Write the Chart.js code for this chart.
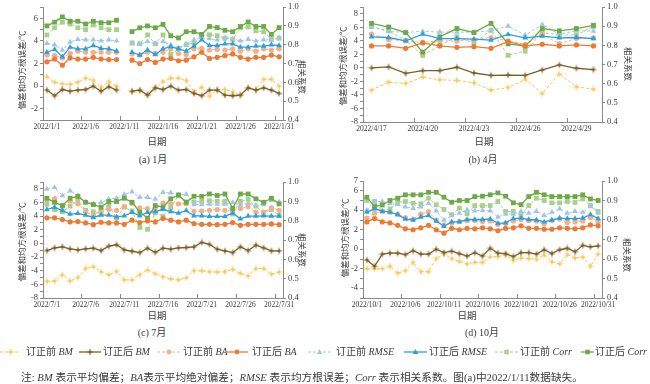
<!DOCTYPE html>
<html>
<head>
<meta charset="utf-8">
<script src="https://cdn.jsdelivr.net/npm/chart.js@4"></script>
<style>
    body { margin: 0; width: 650px; height: 384px; position: relative; overflow: hidden; background: #fff;
           font-family: "Liberation Serif", "Noto Sans CJK SC", serif; color: #3a3a3a; }
    canvas.panel { position: absolute; }
    .t { position: absolute; white-space: nowrap; line-height: 1; transform: translate(-50%, -50%); }
    .vl { transform: translate(-50%, -50%) rotate(-90deg); }
    .vr { transform: translate(-50%, -50%) rotate(90deg); }
    .lg { position: absolute; white-space: nowrap; font-size: 10px; line-height: 1; transform: translateY(-50%); }
    .sw { position: absolute; }
    i { font-style: italic; }
</style>
</head>
<body>
<script>
// ---- categories ----
const janLabels = ["2022/1/1","2022/1/2","2022/1/3","2022/1/4","2022/1/5","2022/1/6","2022/1/7","2022/1/8","2022/1/9","2022/1/10",
    "2022/1/11","2022/1/12","2022/1/13","2022/1/14","2022/1/15","2022/1/16","2022/1/17","2022/1/18","2022/1/19","2022/1/20",
    "2022/1/21","2022/1/22","2022/1/23","2022/1/24","2022/1/25","2022/1/26","2022/1/27","2022/1/28","2022/1/29","2022/1/30","2022/1/31"];
const aprLabels = ["2022/4/17","2022/4/18","2022/4/19","2022/4/20","2022/4/21","2022/4/22","2022/4/23","2022/4/24","2022/4/25",
    "2022/4/26","2022/4/27","2022/4/28","2022/4/29","2022/4/30"];
const julLabels = ["2022/7/1","2022/7/2","2022/7/3","2022/7/4","2022/7/5","2022/7/6","2022/7/7","2022/7/8","2022/7/9","2022/7/10",
    "2022/7/11","2022/7/12","2022/7/13","2022/7/14","2022/7/15","2022/7/16","2022/7/17","2022/7/18","2022/7/19","2022/7/20",
    "2022/7/21","2022/7/22","2022/7/23","2022/7/24","2022/7/25","2022/7/26","2022/7/27","2022/7/28","2022/7/29","2022/7/30","2022/7/31"];
const octLabels = ["2022/10/1","2022/10/2","2022/10/3","2022/10/4","2022/10/5","2022/10/6","2022/10/7","2022/10/8","2022/10/9","2022/10/10",
    "2022/10/11","2022/10/12","2022/10/13","2022/10/14","2022/10/15","2022/10/16","2022/10/17","2022/10/18","2022/10/19","2022/10/20",
    "2022/10/21","2022/10/22","2022/10/23","2022/10/24","2022/10/25","2022/10/26","2022/10/27","2022/10/28","2022/10/29","2022/10/30","2022/10/31"];

// ---- January (1/11 missing) ----
const janBmPre    = [0.85,0.35,0.2,0.15,0.35,0.7,0.5,-0.1,0.4,0.0,null,-0.5,-0.4,-0.7,-0.1,0.4,0.7,0.7,0.5,-0.5,-0.1,-0.9,-0.3,-0.3,-0.5,-0.8,-0.2,-0.3,0.6,0.6,0.0];
const janBmPost   = [-0.35,-0.85,-0.3,-0.45,-0.35,-0.3,0.0,-0.45,-0.05,-0.35,null,-0.45,-0.35,-0.8,-0.15,-0.3,0.0,-0.35,-0.3,-0.65,-0.85,-0.35,-0.35,-0.8,-0.85,-0.8,-0.15,-0.35,-0.15,-0.35,-0.65];
const janBaPre    = [2.75,2.7,2.5,2.9,3.1,3.0,3.0,3.0,3.0,3.0,null,2.85,2.75,3.0,2.9,3.0,3.3,2.9,2.8,3.3,3.35,3.2,3.25,3.2,3.3,3.1,3.3,3.1,3.3,3.2,3.3];
const janBaPost   = [2.15,2.4,1.85,2.5,2.4,2.4,2.55,2.4,2.35,2.35,null,2.3,2.0,2.35,2.1,2.4,2.45,2.25,2.3,2.6,3.0,2.45,2.55,2.7,2.85,2.55,2.4,2.55,2.55,2.75,2.6];
const janRmsePre  = [3.8,3.65,3.2,3.9,4.15,4.1,4.1,4.0,4.1,4.0,null,3.75,3.7,3.95,3.75,3.95,3.65,3.35,3.75,4.1,4.3,4.2,4.1,4.3,4.2,4.0,4.15,4.0,4.1,4.1,4.3];
const janRmsePost = [3.0,3.25,2.6,3.45,3.3,3.3,3.6,3.35,3.3,3.1,null,3.0,2.75,3.2,2.8,3.3,3.5,3.3,3.1,3.55,4.1,3.6,3.6,3.75,3.75,3.45,3.45,3.55,3.55,3.65,3.6];
const janCorrPre  = [0.852,0.89,0.92,0.91,0.89,0.88,0.905,0.89,0.88,0.88,null,0.81,0.805,0.852,0.805,0.852,0.75,0.78,0.8,0.81,0.85,0.853,0.848,0.834,0.828,0.89,0.895,0.874,0.869,0.828,0.834];
const janCorrPost = [0.9,0.92,0.948,0.925,0.925,0.91,0.925,0.917,0.917,0.93,null,0.87,0.89,0.9,0.89,0.908,0.848,0.836,0.869,0.869,0.855,0.897,0.891,0.877,0.869,0.897,0.921,0.897,0.897,0.855,0.891];

// ---- April ----
const aprBmPre    = [-3.3,-2.1,-2.3,-1.35,-1.75,-1.85,-2.2,-3.3,-2.9,-1.7,-3.8,-0.9,-2.8,-3.15];
const aprBmPost   = [0.0,0.15,-0.8,-0.4,-0.4,0.1,-0.75,-1.1,-1.05,-1.1,-0.3,0.45,-0.05,-0.25];
const aprBaPre    = [5.0,4.2,4.0,3.8,4.0,4.0,4.2,4.5,4.0,3.5,5.0,3.6,4.35,4.45];
const aprBaPost   = [3.25,3.25,2.9,3.7,3.25,3.05,3.15,2.9,3.9,3.25,3.5,3.25,3.4,3.25];
const aprRmsePre  = [6.05,5.4,5.25,5.4,5.3,5.3,5.3,5.5,6.2,4.85,6.4,5.0,5.5,5.45];
const aprRmsePost = [4.6,4.5,4.0,5.0,4.35,4.35,4.25,4.1,4.95,4.45,4.7,4.45,4.5,4.35];
const aprCorrPre  = [0.898,0.876,0.825,0.748,0.8,0.845,0.813,0.88,0.748,0.77,0.867,0.855,0.855,0.898];
const aprCorrPost = [0.915,0.896,0.867,0.765,0.845,0.888,0.867,0.915,0.808,0.796,0.888,0.876,0.888,0.905];

// ---- July ----
const julBmPre    = [-5.55,-5.5,-4.6,-5.5,-5.0,-3.65,-3.4,-4.15,-4.6,-4.1,-5.35,-5.35,-4.6,-3.9,-4.45,-4.9,-5.2,-5.35,-5.05,-4.0,-4.0,-4.15,-4.2,-4.15,-3.8,-4.4,-4.75,-3.7,-3.7,-4.5,-4.2];
const julBmPost   = [-1.05,-0.65,-0.5,-0.8,-0.95,-0.8,-0.7,-1.05,-0.4,-0.2,-0.95,-1.15,-1.35,-0.7,-1.3,-0.7,-0.85,-0.65,-0.6,-0.5,0.15,-0.15,-0.85,-1.1,-1.35,-0.5,-1.05,-0.25,-0.65,-1.1,-1.1];
const julBaPre    = [6.4,6.55,5.4,6.2,5.8,4.6,4.1,4.85,5.0,4.85,5.4,5.9,5.2,5.1,5.2,5.9,5.8,5.8,5.8,4.7,4.75,4.85,4.95,4.85,4.85,5.1,5.4,4.6,4.6,5.2,4.85];
const julBaPost   = [3.75,3.75,3.5,3.15,3.2,3.0,2.75,3.1,3.0,3.0,2.8,3.4,3.05,3.3,3.15,3.65,3.4,3.15,3.4,2.9,2.8,2.8,2.75,2.8,3.05,2.65,2.8,2.8,2.8,2.85,2.75];
const julRmsePre  = [7.95,8.2,7.0,7.7,7.0,6.1,5.8,6.0,6.5,6.6,7.2,7.55,6.75,6.75,6.5,7.5,7.4,7.1,7.2,5.7,5.7,5.75,5.75,5.75,6.0,5.6,5.9,5.6,5.7,6.3,6.1];
const julRmsePost = [4.95,5.3,4.8,4.3,4.4,4.15,3.8,4.15,4.15,3.9,4.05,4.55,4.05,4.55,4.65,5.0,4.65,4.45,4.8,4.05,4.05,3.95,3.95,3.95,4.45,3.6,4.0,4.0,4.05,4.0,4.0];
const julCorrPre  = [0.885,0.857,0.846,0.875,0.906,0.854,0.846,0.84,0.875,0.815,0.87,0.85,0.765,0.755,0.84,0.823,0.868,0.93,0.897,0.897,0.9,0.903,0.9,0.9,0.834,0.9,0.91,0.875,0.84,0.857,0.828];
const julCorrPost = [0.916,0.895,0.878,0.916,0.926,0.895,0.883,0.87,0.899,0.899,0.916,0.895,0.844,0.813,0.878,0.87,0.913,0.933,0.895,0.926,0.926,0.938,0.93,0.938,0.864,0.938,0.938,0.913,0.895,0.916,0.887];

// ---- October ----
const octBmPre    = [-2.0,-2.0,-2.0,-1.75,-2.45,-2.2,-1.35,-2.3,-2.3,-0.95,-0.5,-0.95,-1.25,-1.5,-1.35,-1.35,-0.8,-0.75,-0.6,-1.15,-0.9,-0.95,-1.05,-0.6,-1.3,-1.5,-0.55,-0.9,-0.8,-1.75,-0.5];
const octBmPost   = [-1.1,-1.75,-0.5,-0.4,-0.4,-0.55,-0.15,-0.5,-0.5,0.0,-0.35,-0.2,-0.45,-0.7,-0.35,-0.7,0.1,-0.4,-0.45,-0.75,-0.35,-0.35,-0.5,-0.05,-0.45,-0.05,0.1,-0.25,0.4,0.25,0.35];
const octBaPre    = [3.2,3.7,3.9,3.8,3.6,3.25,3.1,3.6,3.85,3.0,2.5,2.7,2.85,2.95,2.95,2.85,2.9,2.55,2.65,2.9,3.05,2.95,2.9,2.6,2.95,3.1,2.75,2.8,2.9,3.25,2.85];
const octBaPost   = [2.8,3.15,2.8,2.7,2.45,2.1,2.0,2.2,2.45,2.0,1.65,2.15,2.0,2.15,2.1,2.2,2.1,1.9,2.15,2.2,2.4,2.15,2.15,2.05,2.05,2.2,2.15,2.1,2.2,2.5,2.4];
const octRmsePre  = [4.0,4.9,4.9,4.7,4.6,4.35,4.2,4.35,4.7,3.95,3.0,3.45,3.7,4.05,3.95,4.0,3.95,3.3,3.6,3.6,3.88,3.7,3.88,3.47,3.8,4.15,3.7,3.88,3.8,4.4,3.7];
const octRmsePost = [3.8,4.15,3.9,3.8,3.55,3.1,3.0,3.3,3.45,2.9,2.35,2.8,2.8,3.05,3.05,3.05,3.1,2.65,2.7,3.15,3.2,3.05,3.0,2.8,3.0,3.2,3.15,3.15,3.2,3.55,3.15];
const octCorrPre  = [0.9,0.895,0.845,0.857,0.891,0.895,0.886,0.883,0.912,0.878,0.854,0.827,0.861,0.832,0.874,0.874,0.874,0.895,0.844,0.844,0.823,0.874,0.912,0.9,0.888,0.888,0.895,0.89,0.908,0.874,0.844];
const octCorrPost = [0.917,0.869,0.877,0.9,0.912,0.929,0.929,0.929,0.942,0.942,0.917,0.891,0.9,0.9,0.92,0.922,0.929,0.939,0.922,0.888,0.879,0.92,0.942,0.929,0.92,0.92,0.92,0.92,0.929,0.908,0.9];

// ---- labelled tick values ----
const janLeftTicks = [-2, 0, 2, 4, 6];
const aprLeftTicks = [-8, -6, -4, -2, 0, 2, 4, 6, 8];
const julLeftTicks = [-8, -6, -4, -2, 0, 2, 4, 6, 8];
const octLeftTicks = [-4, -2, 0, 2, 4, 6, 7];

// series look, in legend order
const seriesStyle = [
    { pre: "订正前", metric: "BM",   color: "#f6c652", dash: true,  mark: "star",     axis: "y"  },
    { pre: "订正后", metric: "BM",   color: "#7d5f22", dash: false, mark: "star",     axis: "y"  },
    { pre: "订正前", metric: "BA",   color: "#f3b088", dash: true,  mark: "circle",   axis: "y"  },
    { pre: "订正后", metric: "BA",   color: "#ec7a35", dash: false, mark: "circle",   axis: "y"  },
    { pre: "订正前", metric: "RMSE", color: "#a2c4e6", dash: true,  mark: "triangle", axis: "y"  },
    { pre: "订正后", metric: "RMSE", color: "#2ba0e0", dash: false, mark: "triangle", axis: "y"  },
    { pre: "订正前", metric: "Corr", color: "#a8d08c", dash: true,  mark: "rect",     axis: "y1" },
    { pre: "订正后", metric: "Corr", color: "#6caa45", dash: false, mark: "rect",     axis: "y1" },
];

const panels = [
    { labels: janLabels, series: [janBmPre, janBmPost, janBaPre, janBaPost, janRmsePre, janRmsePost, janCorrPre, janCorrPost],
      yMin: -3, yMax: 7, leftTicks: janLeftTicks, every: 5,
      box: { x: 0, y: 0, w: 325, h: 140 }, area: { l: 43, r: 283, t: 4, b: 120 } },
    { labels: aprLabels, series: [aprBmPre, aprBmPost, aprBaPre, aprBaPost, aprRmsePre, aprRmsePost, aprCorrPre, aprCorrPost],
      yMin: -8, yMax: 9, leftTicks: aprLeftTicks, every: 3,
      box: { x: 320, y: 0, w: 330, h: 142 }, area: { l: 43, r: 282, t: 4, b: 122 } },
    { labels: julLabels, series: [julBmPre, julBmPost, julBaPre, julBaPost, julRmsePre, julRmsePost, julCorrPre, julCorrPost],
      yMin: -8, yMax: 9, leftTicks: julLeftTicks, every: 5,
      box: { x: 0, y: 170, w: 325, h: 148 }, area: { l: 43, r: 283, t: 12, b: 128 } },
    { labels: octLabels, series: [octBmPre, octBmPost, octBaPre, octBaPost, octRmsePre, octRmsePost, octCorrPre, octCorrPost],
      yMin: -5, yMax: 7, leftTicks: octLeftTicks, every: 5,
      box: { x: 320, y: 170, w: 330, h: 148 }, area: { l: 43, r: 282, t: 11, b: 128 } },
];

const axisColor = "#8a8a8a";
const textColor = "#3a3a3a";
const serif = '"Liberation Serif", "Times New Roman", serif';

function makeStar(color) {
    const c = document.createElement("canvas");
    c.width = 8; c.height = 8;
    const g = c.getContext("2d");
    g.fillStyle = color;
    g.beginPath();
    for (let k = 0; k < 8; k++) {
        const a = k * Math.PI / 4 - Math.PI / 2;
        const rad = k % 2 ? 1.2 : 4;
        g.lineTo(4 + rad * Math.cos(a), 4 + rad * Math.sin(a));
    }
    g.closePath();
    g.fill();
    return c;
}

const markRadius = { star: 3, circle: 2.6, triangle: 3.3, rect: 3.4 };

function makeDatasets(series) {
    return series.map((values, i) => {
        const st = seriesStyle[i];
        return {
            label: st.pre + " " + st.metric,
            data: values,
            yAxisID: st.axis,
            borderColor: st.color,
            backgroundColor: st.color,
            borderWidth: st.dash ? 1 : 1.3,
            borderDash: st.dash ? [3, 2] : [],
            pointStyle: st.mark === "star" ? makeStar(st.color) : st.mark,
            pointRadius: markRadius[st.mark],
            pointBackgroundColor: st.color,
            pointBorderColor: st.color,
            pointBorderWidth: 0,
            tension: 0,
            spanGaps: false,
            order: st.dash ? 1 : 0,
        };
    });
}

panels.forEach((p) => {
    const cv = document.createElement("canvas");
    cv.className = "panel";
    cv.width = p.box.w;
    cv.height = p.box.h;
    cv.style.left = p.box.x + "px";
    cv.style.top = p.box.y + "px";
    document.body.appendChild(cv);

    new Chart(cv, {
        type: "line",
        data: { labels: p.labels, datasets: makeDatasets(p.series) },
        options: {
            responsive: false,
            animation: false,
            devicePixelRatio: 1,
            layout: { padding: { top: p.area.t, left: 0, right: 0, bottom: 0 } },
            plugins: { legend: { display: false }, tooltip: { enabled: false } },
            scales: {
                x: {
                    offset: true,
                    afterFit: (s) => { s.height = p.box.h - p.area.b; },
                    border: { display: true, color: axisColor, width: 1 },
                    grid: {
                        drawOnChartArea: false,
                        offset: true,
                        tickLength: -4,
                        tickColor: (c) => (c.index % p.every === 0 ? axisColor : "rgba(0,0,0,0)"),
                    },
                    ticks: {
                        autoSkip: false,
                        maxRotation: 0,
                        minRotation: 0,
                        padding: 7,
                        color: textColor,
                        font: { family: serif, size: 7.5 },
                        callback: (v, i) => (i % p.every === 0 ? p.labels[i] : ""),
                    },
                },
                y: {
                    position: "left",
                    min: p.yMin,
                    max: p.yMax,
                    afterFit: (s) => { s.width = p.area.l; },
                    border: { display: true, color: axisColor, width: 1 },
                    grid: { drawOnChartArea: false, tickLength: 3, color: axisColor },
                    ticks: {
                        autoSkip: false,
                        stepSize: 1,
                        padding: 2,
                        color: textColor,
                        font: { family: serif, size: 8.5 },
                        callback: (v) => (p.leftTicks.includes(v) ? v : ""),
                    },
                },
                y1: {
                    position: "right",
                    min: 0.4,
                    max: 1.0,
                    afterFit: (s) => { s.width = p.box.w - p.area.r; },
                    border: { display: true, color: axisColor, width: 1 },
                    grid: { drawOnChartArea: false, tickLength: 3, color: axisColor },
                    ticks: {
                        autoSkip: false,
                        stepSize: 0.1,
                        padding: 2,
                        color: textColor,
                        font: { family: serif, size: 8.5 },
                        callback: (v) => v.toFixed(1),
                    },
                },
            },
        },
    });
});

// ---- text around the panels ----
const texts = [
    ["(a) 1月", 153, 160, 10, ""], ["(b) 4月", 483, 160, 10, ""], ["(c) 7月", 152, 333, 10, ""], ["(d) 10月", 482, 333, 10, ""],
    ["日期", 157, 143, 9.5, ""], ["日期", 484, 143, 9.5, ""], ["日期", 157, 317, 9.5, ""], ["日期", 467, 317, 9.5, ""],
    ["偏差和均方根误差/℃", 22, 70, 8.5, "vl"], ["偏差和均方根误差/℃", 343, 66, 8.5, "vl"],
    ["偏差和均方根误差/℃", 22, 242, 8.5, "vl"], ["偏差和均方根误差/℃", 345, 238, 8.5, "vl"],
    ["相关系数", 302, 77, 8.5, "vr"], ["相关系数", 628, 64, 8.5, "vr"], ["相关系数", 302, 250, 8.5, "vr"], ["相关系数", 627, 255, 8.5, "vr"],
];
texts.forEach(([s, x, y, fs, cls]) => {
    const d = document.createElement("div");
    d.className = "t " + cls;
    d.style.left = x + "px";
    d.style.top = y + "px";
    d.style.fontSize = fs + "px";
    d.textContent = s;
    document.body.appendChild(d);
});

// ---- legend ----
const legendY = 352;
const swatchX = [0, 79, 157, 226, 308, 404, 495, 581];
const swatchW = [21, 22, 24, 22, 23, 23, 23, 13];
const labelX = [26, 103, 183, 252, 336, 429, 520, 595];
seriesStyle.forEach((st, i) => {
    const c = document.createElement("canvas");
    c.className = "sw";
    c.width = swatchW[i];
    c.height = 10;
    c.style.left = swatchX[i] + "px";
    c.style.top = (legendY - 5) + "px";
    document.body.appendChild(c);
    const g = c.getContext("2d");
    g.strokeStyle = st.color;
    g.lineWidth = st.dash ? 1 : 1.3;
    g.setLineDash(st.dash ? [3, 2] : []);
    g.beginPath(); g.moveTo(0, 5); g.lineTo(swatchW[i], 5); g.stroke();
    g.fillStyle = st.color;
    const cx = swatchW[i] / 2;
    g.beginPath();
    if (st.mark === "circle") g.arc(cx, 5, 2.4, 0, Math.PI * 2);
    else if (st.mark === "rect") g.rect(cx - 2.3, 2.7, 4.6, 4.6);
    else if (st.mark === "triangle") { g.moveTo(cx, 2); g.lineTo(cx + 2.8, 7); g.lineTo(cx - 2.8, 7); g.closePath(); }
    g.fill();
    if (st.mark === "star") g.drawImage(makeStar(st.color), cx - 4, 1);

    const d = document.createElement("div");
    d.className = "lg";
    d.style.left = labelX[i] + "px";
    d.style.top = legendY + "px";
    d.innerHTML = st.pre + " <i>" + st.metric + "</i>";
    document.body.appendChild(d);
});

const note = document.createElement("div");
note.className = "lg";
note.style.left = "21px";
note.style.top = "377px";
note.style.fontSize = "10.7px";
note.innerHTML = "注: <i>BM</i> 表示平均偏差；<i>BA</i>表示平均绝对偏差；<i>RMSE</i> 表示均方根误差；<i>Corr</i> 表示相关系数。图(a)中2022/1/11数据缺失。";
document.body.appendChild(note);
</script>
</body>
</html>
